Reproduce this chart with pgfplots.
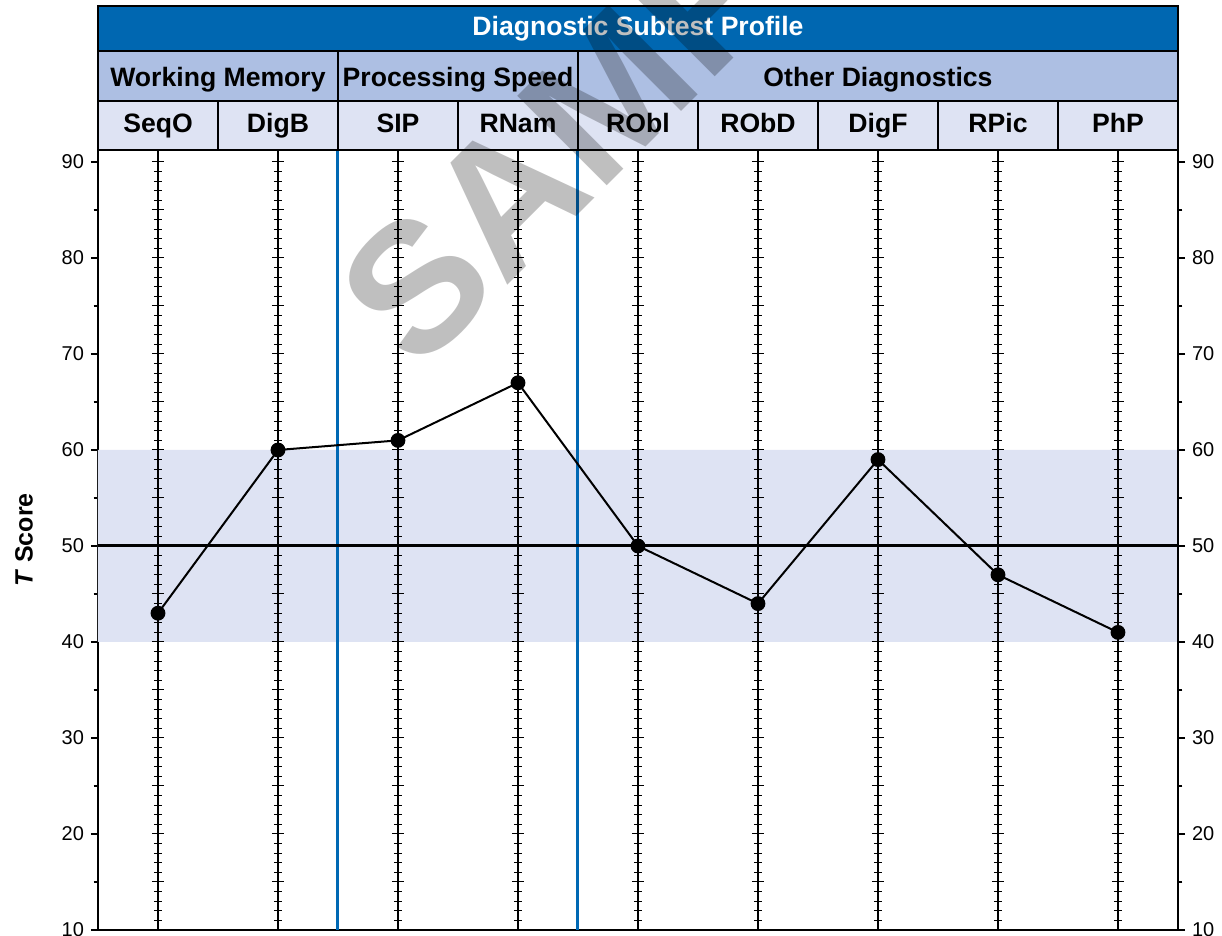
\documentclass[border=0pt]{standalone}
\usepackage{fontspec}
\setmainfont{Liberation Sans}
\usepackage{pgfplots}
\pgfplotsset{compat=1.18}
\definecolor{hdrblue}{RGB}{0,103,177}
\definecolor{grpblue}{RGB}{173,191,227}
\definecolor{subblue}{RGB}{222,227,243}
\definecolor{sepblue}{RGB}{0,104,180}
\newcommand{\hdrfont}{\fontsize{13.3}{15}\selectfont\bfseries}
\begin{document}
\begin{tikzpicture}[x=0.5pt,y=0.5pt]
\useasboundingbox (0,0) rectangle (1222,936);
\pgfplotsset{
  common/.style={
    at={(49pt,3pt)}, anchor=south west, scale only axis,
    width=540pt, height=390pt,
    xmin=-0.5, xmax=8.5, ymin=10, ymax=91.25,
    axis line style={-, line width=1pt, black},
    xtick=\empty, ytick={10,20,...,90}, minor ytick={15,25,...,85},
    major tick length=3.5pt, minor tick length=2.2pt,
    every tick/.append style={black, line width=0.75pt},
    yticklabel style={font=\fontsize{10}{12}\selectfont},
    /pgf/number format/assume math mode=true,
    clip=false,
  }
}
\begin{axis}[common,
  axis x line*=bottom, axis y line*=left, tick align=outside, ytick pos=left,
  ylabel={\textbf{\textit{T} Score}},
  ylabel style={at={(axis description cs:-0.0685,0.5)}, anchor=center, font=\fontsize{12.5}{14}\selectfont},
]
\addplot[fill=subblue, draw=none] coordinates {(-0.5,40) (8.5,40) (8.5,60) (-0.5,60) (-0.5,40)};
\foreach \i in {0,...,8}{
  \edef\temp{\noexpand\draw[black, line width=0.7pt] (axis cs:\i,10) -- (axis cs:\i,91.25);}\temp
  \foreach \v in {11,...,90}{
    \pgfmathtruncatemacro\r{mod(\v,5)}
    \ifnum\r=0 \def\w{3pt}\else\def\w{2pt}\fi
    \edef\temp{\noexpand\draw[black, line width=0.5pt] ([xshift=-\w]axis cs:\i,\v) -- ([xshift=\w]axis cs:\i,\v);}\temp
  }
}
\addplot[sepblue, line width=1.5pt] coordinates {(1.5,10) (1.5,91.25)};
\addplot[sepblue, line width=1.5pt] coordinates {(3.5,10) (3.5,91.25)};
\addplot[black, line width=1.5pt] coordinates {(-0.5,50) (8.5,50)};
\addplot[black, line width=1pt, mark=*, mark size=3.2pt] coordinates {
  (0,43) (1,60) (2,61) (3,67) (4,50) (5,44) (6,59) (7,47) (8,41)};
\end{axis}
\begin{axis}[common,
  axis x line=none, axis y line*=right, tick align=outside, ytick pos=right, yticklabel pos=right,
]
\end{axis}
% header
\draw[fill=hdrblue, line width=1pt] (98,930) rectangle (1178,885);
\node[anchor=base, text=white, font=\hdrfont, inner sep=0pt] at (638,900) {Diagnostic Subtest Profile};
\draw[fill=grpblue, line width=1pt] (98,885) rectangle (338,835);
\draw[fill=grpblue, line width=1pt] (338,885) rectangle (578,835);
\draw[fill=grpblue, line width=1pt] (578,885) rectangle (1178,835);
\node[anchor=base, font=\hdrfont, inner sep=0pt] at (218,849) {Working Memory};
\node[anchor=base, font=\hdrfont, inner sep=0pt] at (458,849) {Processing Speed};
\node[anchor=base, font=\hdrfont, inner sep=0pt] at (878,849) {Other Diagnostics};
\foreach \lab [count=\i from 0] in {SeqO,DigB,SIP,RNam,RObl,RObD,DigF,RPic,PhP} {
  \draw[fill=subblue, line width=1pt] ({98+120*\i},835) rectangle ({218+120*\i},786);
  \node[anchor=base, font=\hdrfont, inner sep=0pt] at ({158+120*\i},803) {\lab};
}
% watermark
\node[rotate=45, opacity=0.25, font=\fontsize{92}{92}\selectfont\bfseries, inner sep=0pt] at (644,877) {SAMPLE};
\end{tikzpicture}
\end{document}
